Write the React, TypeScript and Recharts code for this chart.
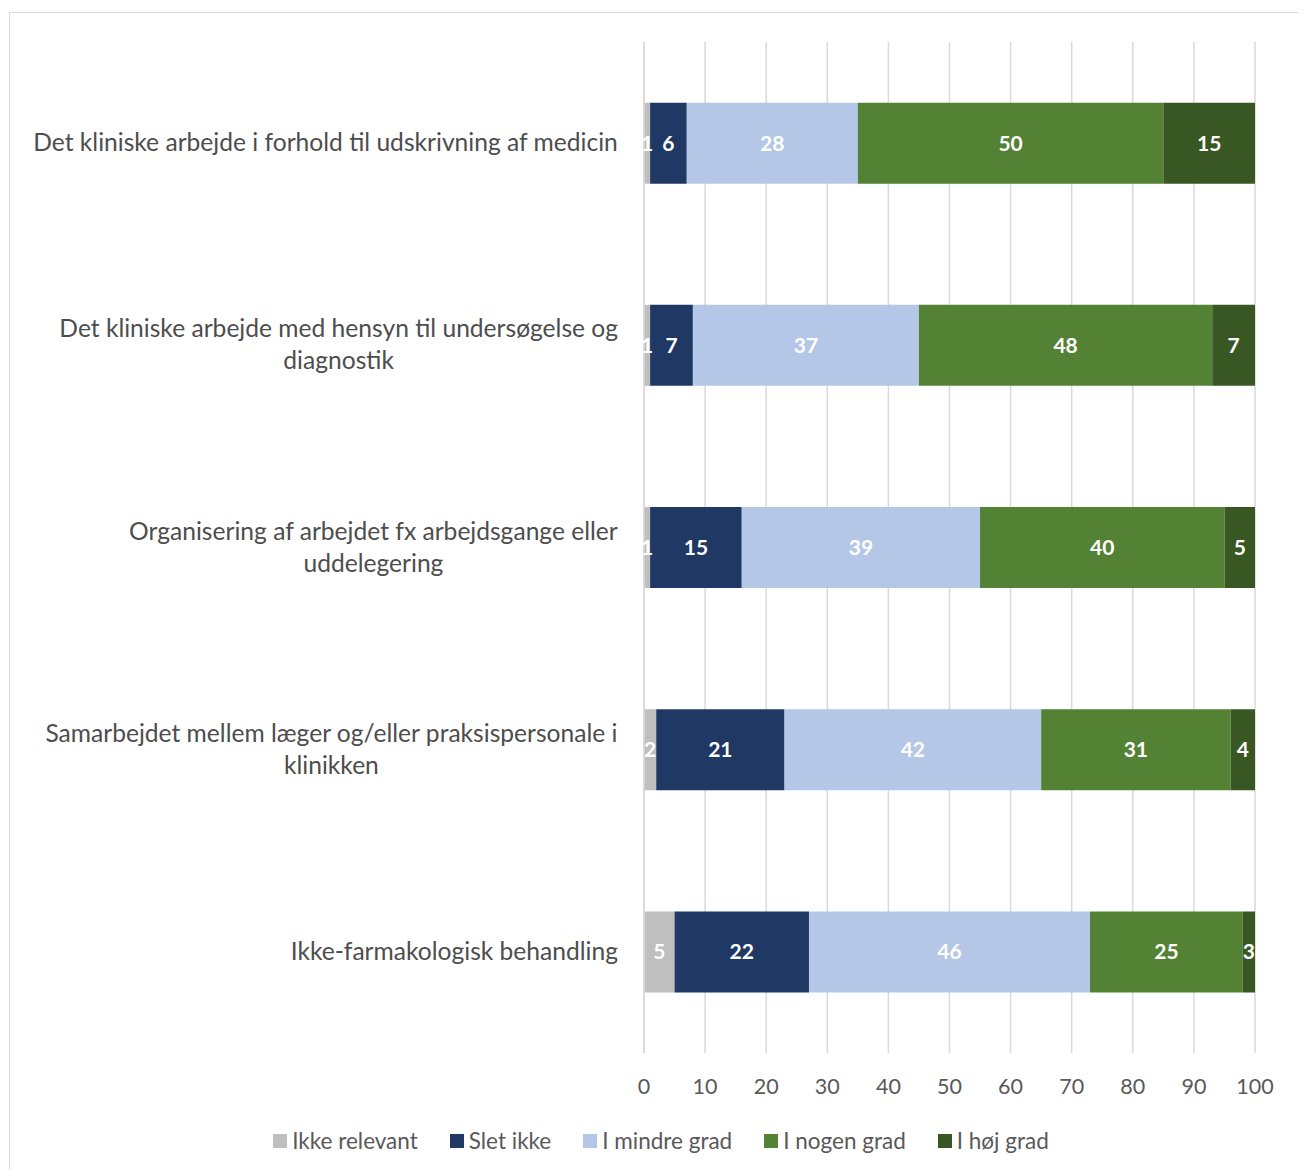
import React from 'react';
import { BarChart, Bar, XAxis, YAxis, CartesianGrid, Legend, LabelList } from 'recharts';

// Survey answers per area, in percent of respondents
const categories = [
  'Det kliniske arbejde i forhold til udskrivning af medicin',
  'Det kliniske arbejde med hensyn til undersøgelse og\ndiagnostik',
  'Organisering af arbejdet fx arbejdsgange eller\nuddelegering',
  'Samarbejdet mellem læger og/eller praksispersonale i\nklinikken',
  'Ikke-farmakologisk behandling',
];
const ikkeRelevant = [1, 1, 1, 2, 5];
const sletIkke = [6, 7, 15, 21, 22];
const iMindreGrad = [28, 37, 39, 42, 46];
const iNogenGrad = [50, 48, 40, 31, 25];
const iHoejGrad = [15, 7, 5, 4, 3];
const xTicks = [0, 10, 20, 30, 40, 50, 60, 70, 80, 90, 100];

const series = [
  { key: 'ikkeRelevant', name: 'Ikke relevant', color: '#BFBFBF' },
  { key: 'sletIkke', name: 'Slet ikke', color: '#203864' },
  { key: 'iMindreGrad', name: 'I mindre grad', color: '#B4C7E7' },
  { key: 'iNogenGrad', name: 'I nogen grad', color: '#548235' },
  { key: 'iHoejGrad', name: 'I høj grad', color: '#385723' },
];

const data = categories.map((name, i) => ({
  name,
  ikkeRelevant: ikkeRelevant[i],
  sletIkke: sletIkke[i],
  iMindreGrad: iMindreGrad[i],
  iNogenGrad: iNogenGrad[i],
  iHoejGrad: iHoejGrad[i],
}));

const FONT = 'Lato, "Open Sans", sans-serif';
const CAT_FONT_SIZE = 24.6;
const LINE_HEIGHT = 32;

let measureCtx: CanvasRenderingContext2D | null = null;
const textWidth = (s: string) => {
  if (!measureCtx) measureCtx = document.createElement('canvas').getContext('2d');
  if (!measureCtx) return s.length * 11;
  measureCtx.font = `${CAT_FONT_SIZE}px ${FONT}`;
  return measureCtx.measureText(s).width;
};

// multi-line category label: lines centred on each other, block right-aligned
const CategoryTick = ({ x, y, payload }: any) => {
  const lines: string[] = String(payload.value).split('\n');
  const maxW = Math.max(...lines.map(textWidth));
  const cx = x - maxW / 2;
  const startY = y - 2 - ((lines.length - 1) * LINE_HEIGHT) / 2;
  return (
    <text
      textAnchor="middle"
      fill="#4D4D4D"
      fontSize={CAT_FONT_SIZE}
      fontFamily={FONT}
      dominantBaseline="central"
    >
      {lines.map((l, i) => (
        <tspan key={i} x={cx} y={startY + i * LINE_HEIGHT}>
          {l}
        </tspan>
      ))}
    </text>
  );
};

const LegendContent = () => (
  <div
    style={{
      display: 'flex',
      justifyContent: 'center',
      gap: 32,
      fontFamily: FONT,
      fontSize: 22.5,
      color: '#595959',
      paddingLeft: 10,
    }}
  >
    {series.map((s) => (
      <span key={s.key} style={{ display: 'inline-flex', alignItems: 'center' }}>
        <span
          style={{ width: 14, height: 14, background: s.color, display: 'inline-block', marginRight: 5 }}
        />
        {s.name}
      </span>
    ))}
  </div>
);

export default function App() {
  return (
    <div
      style={{
        width: 1292,
        height: 1157,
        marginTop: 4,
        marginLeft: 1,
        border: '1px solid #D9D9D9',
        background: '#fff',
      }}
    >
      <BarChart
        width={1292}
        height={1157}
        data={data}
        layout="vertical"
        barCategoryGap="30%"
        margin={{ top: 29, right: 47, left: 0, bottom: 16 }}
      >
        <CartesianGrid horizontal={false} stroke="#D9D9D9" strokeWidth={1.5} />
        <XAxis
          type="number"
          domain={[0, 100]}
          ticks={xTicks}
          allowDataOverflow
          axisLine={false}
          tickLine={false}
          tickMargin={20}
          height={74}
          tick={{ fill: '#595959', fontSize: 21.5, fontFamily: FONT }}
        />
        <YAxis
          type="category"
          dataKey="name"
          width={634}
          axisLine={{ stroke: '#D9D9D9', strokeWidth: 1.5 }}
          tickLine={false}
          tickMargin={20}
          tick={<CategoryTick />}
          interval={0}
        />
        <Legend verticalAlign="bottom" content={<LegendContent />} wrapperStyle={{ left: 0, width: 1292 }} />
        {series.map((s) => (
          <Bar key={s.key} dataKey={s.key} name={s.name} stackId="a" fill={s.color} isAnimationActive={false}>
            <LabelList
              dataKey={s.key}
              position="center"
              fill="#FFFFFF"
              fontSize={21}
              fontWeight="bold"
              fontFamily={FONT}
            />
          </Bar>
        ))}
      </BarChart>
    </div>
  );
}
